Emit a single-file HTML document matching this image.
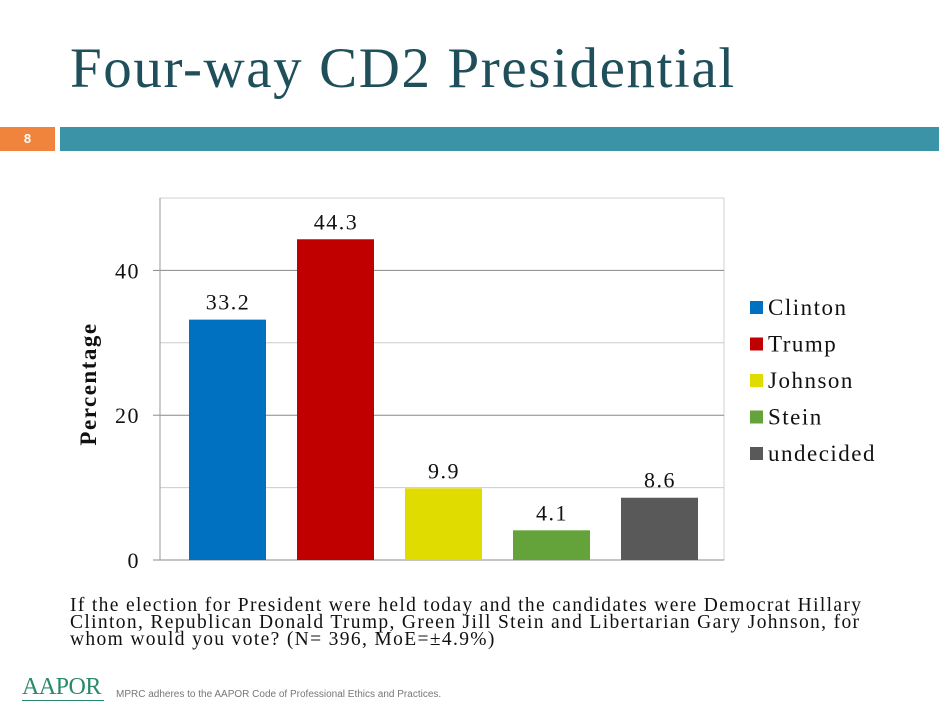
<!DOCTYPE html>
<html><head><meta charset="utf-8"><style>
body{margin:0;width:939px;height:712px;background:#fff;overflow:hidden;position:relative;font-family:"Liberation Serif",serif}
.abs{position:absolute}
svg text{letter-spacing:1.5px}
</style></head><body>
<div class="abs" style="left:70px;top:36px;font-size:57px;color:#1f4f5b;font-family:'Liberation Serif',serif;letter-spacing:1.6px">Four-way CD2 Presidential</div>
<div class="abs" style="left:0;top:127px;width:55px;height:24px;background:#f0843c;color:#fff;font:bold 13px 'Liberation Sans',sans-serif;line-height:24px;text-align:center">8</div>
<div class="abs" style="left:60px;top:127px;width:879px;height:24px;background:#3b93a8"></div>
<svg class="abs" style="left:0;top:0" width="939" height="600">
<g id="g"></g>
</svg>
<div class="abs" style="left:70px;top:597px;font-size:19.5px;line-height:17px;letter-spacing:1.35px;color:#111">If the election for President were held today and the candidates were Democrat Hillary<br>Clinton, Republican Donald Trump, Green Jill Stein and Libertarian Gary Johnson, for<br>whom would you vote? (N= 396, MoE=±4.9%)</div>
<div class="abs" style="left:22px;top:674px;font-size:24px;color:#2a8a6a;letter-spacing:-0.5px">AAPOR</div>
<div class="abs" style="left:22px;top:700px;width:82px;height:1px;background:#2a8a6a"></div>
<div class="abs" style="left:116px;top:689px;font:10px 'Liberation Sans',sans-serif;color:#777">MPRC adheres to the AAPOR Code of Professional Ethics and Practices.</div>
<script>
const categories=["Clinton","Trump","Johnson","Stein","undecided"];
const values=[33.2,44.3,9.9,4.1,8.6];
const colors=["#0070c0","#c00000","#e0dc00","#64a33a","#595959"];
const ticks=[0,20,40];
const grid=[10,20,30,40];
const ns="http://www.w3.org/2000/svg",g=document.getElementById('g');
const x0=160,x1=724,y0=560,yTop=198,ymax=50;
const y=v=>y0-(y0-yTop)*v/ymax;
const bx=i=>189+i*108;
function mk(t,a,txt){const e=document.createElementNS(ns,t);for(const k in a)e.setAttribute(k,a[k]);if(txt!=null)e.textContent=txt;g.appendChild(e);return e;}
let e=mk('rect',{x:x0,y:yTop,width:x1-x0,height:y0-yTop,fill:'none',stroke:'#d0d0d0'});


grid.forEach(v=>{e=mk('line',{x1:x0,x2:x1,y1:y(v),y2:y(v),stroke:v%20==0?'#888':'#ccc'});

});
ticks.forEach(v=>{e=mk('line',{x1:153,x2:x0,y1:y(v),y2:y(v),stroke:'#888'});


e=mk('text',{x:140,y:y(v)+8,'text-anchor':'end','font-size':22,fill:'#111'},v);

});
e=mk('line',{x1:153,x2:x1,y1:y0,y2:y0,stroke:'#888'});


e=mk('line',{x1:x0,x2:x0,y1:yTop,y2:y0,stroke:'#999'});


e=mk('text',{x:0,y:0,transform:'translate(96,384) rotate(-90)','text-anchor':'middle','font-size':23,'font-weight':'bold',fill:'#111','letter-spacing':'2.5px'},'Percentage');


values.forEach((v,i)=>{e=mk('rect',{x:bx(i),y:y(v),width:77,height:y0-y(v),fill:colors[i]});


e=mk('text',{x:bx(i)+39,y:y(v)-10,'text-anchor':'middle','font-size':22,fill:'#111','letter-spacing':'2px'},v.toFixed(1));


const ly=308+i*36.5;
e=mk('rect',{x:750,y:ly-7,width:13,height:13,fill:colors[i]});


e=mk('text',{x:768,y:ly+7,'font-size':23,fill:'#111','letter-spacing':'1.8px'},categories[i]);

});
</script>
</body></html>
